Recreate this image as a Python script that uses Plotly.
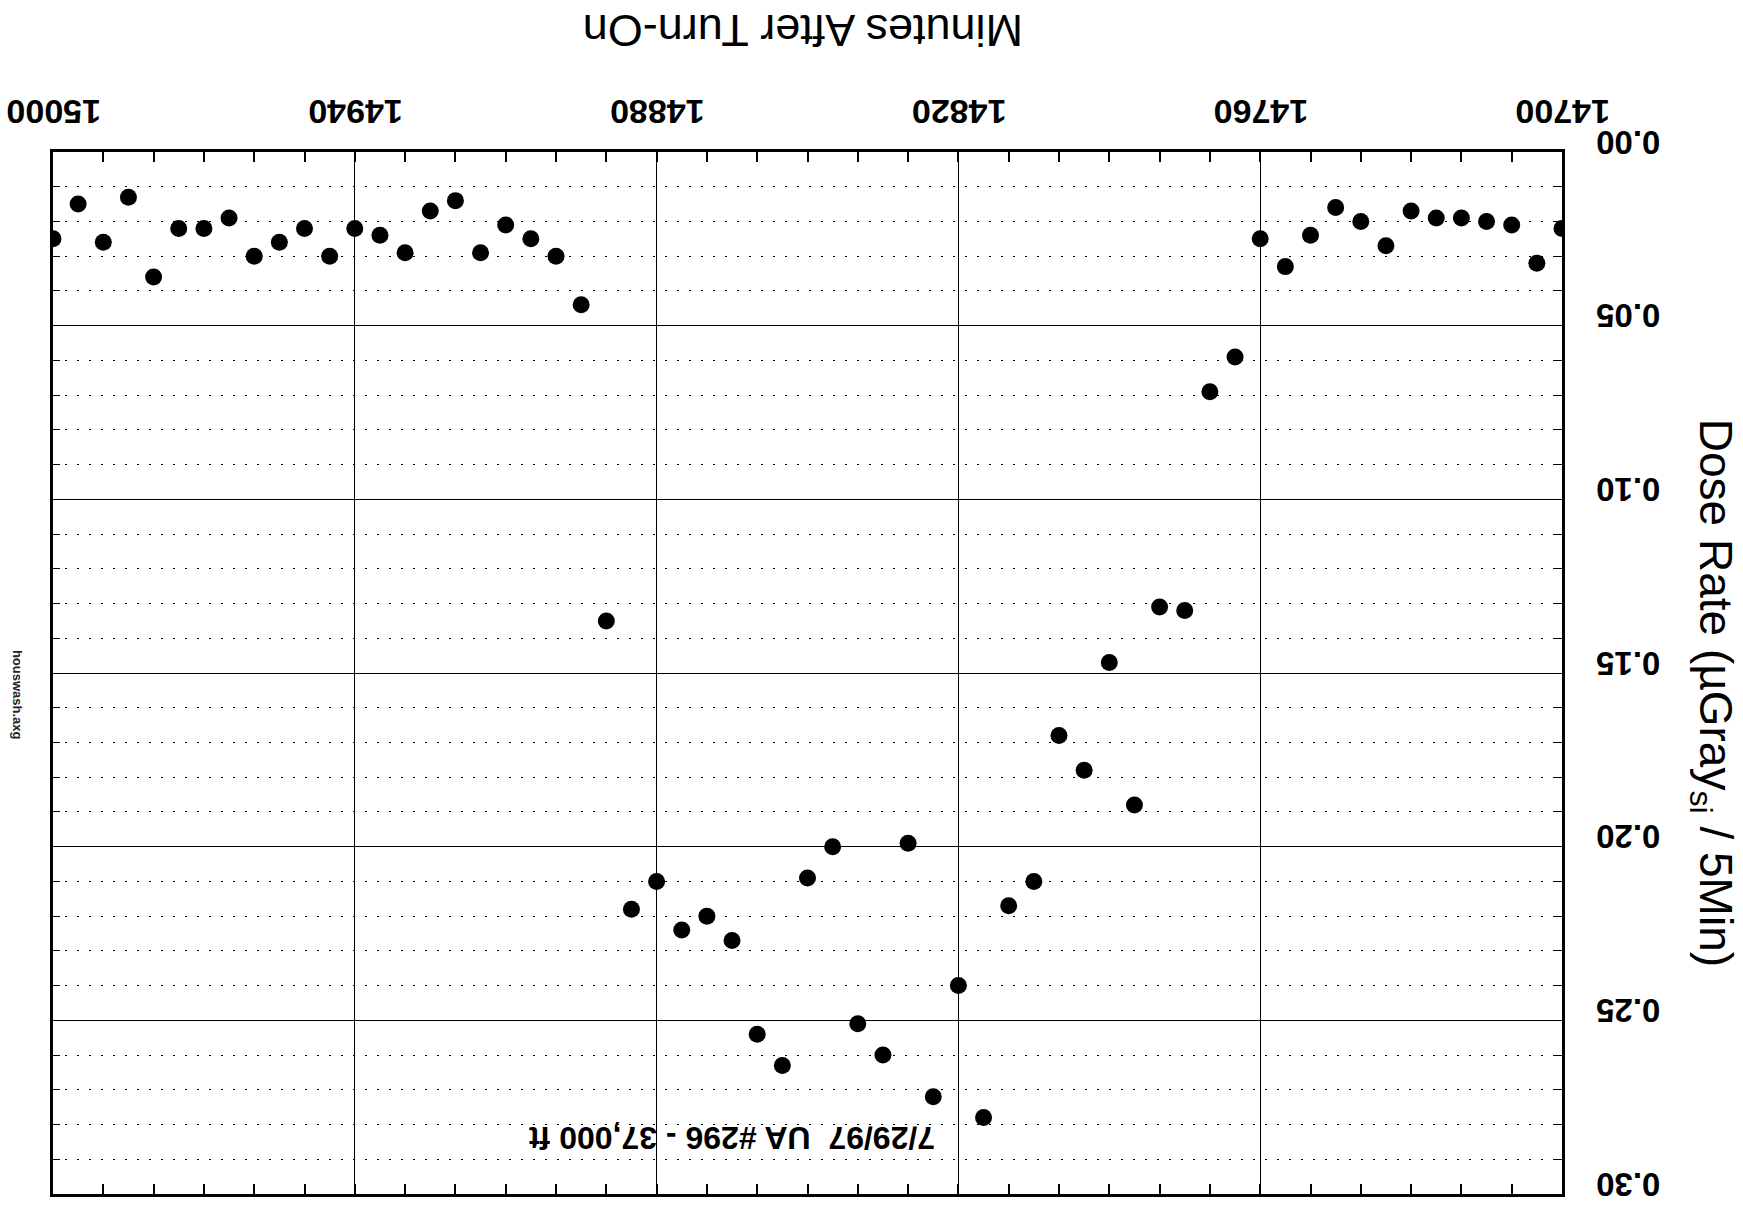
import plotly.graph_objects as go

minutes = [15000, 14995, 14990, 14985, 14980, 14975, 14970, 14965, 14960, 14955,
           14950, 14945, 14940, 14935, 14930, 14925, 14920, 14915, 14910, 14905,
           14900, 14895, 14890, 14885, 14880, 14875, 14870, 14865, 14860, 14855,
           14850, 14845, 14840, 14835, 14830, 14825, 14820, 14815, 14810, 14805,
           14800, 14795, 14790, 14785, 14780, 14775, 14770, 14765, 14760, 14755,
           14750, 14745, 14740, 14735, 14730, 14725, 14720, 14715, 14710, 14705,
           14700]
dose = [0.025, 0.015, 0.026, 0.013, 0.036, 0.022, 0.022, 0.019, 0.030, 0.026,
        0.022, 0.030, 0.022, 0.024, 0.029, 0.017, 0.014, 0.029, 0.021, 0.025,
        0.030, 0.044, 0.135, 0.218, 0.210, 0.224, 0.220, 0.227, 0.254, 0.263,
        0.209, 0.200, 0.251, 0.260, 0.199, 0.272, 0.240, 0.278, 0.217, 0.210,
        0.168, 0.178, 0.147, 0.188, 0.131, 0.132, 0.069, 0.059, 0.025, 0.033,
        0.024, 0.016, 0.020, 0.027, 0.017, 0.019, 0.019, 0.020, 0.021, 0.032,
        0.022]

x_ticks = [14700, 14760, 14820, 14880, 14940, 15000]
y_ticks = [0.00, 0.05, 0.10, 0.15, 0.20, 0.25, 0.30]

x_title = "Minutes After Turn-On"
y_title = "Dose Rate (µGray<sub>si</sub> / 5Min)"
note = "7/29/97  UA #296 - 37,000 ft"
file_tag = "houswash.axg"

FONT = "Liberation Sans, Arial, sans-serif"

fig = go.Figure()
fig.add_trace(go.Scatter(
    x=minutes, y=dose, mode="markers",
    marker=dict(color="black", size=17, line=dict(width=0)),
    showlegend=False,
))

fig.update_layout(
    width=1743, height=1221,
    margin=dict(l=53, r=181, t=152, b=27, autoexpand=False),
    paper_bgcolor="white", plot_bgcolor="white",
    font=dict(family=FONT, color="black"),
)

fig.update_xaxes(
    range=[15000, 14700], side="top", automargin=False,
    tickmode="array", tickvals=x_ticks, ticktext=[str(v) for v in x_ticks],
    tickangle=180,
    tickfont=dict(size=34, family=FONT, weight="bold"),
    ticklabelstandoff=2, ticklabelshift=-48, ticklabeloverflow="allow",
    showgrid=True, gridcolor="black", gridwidth=1,
    showline=True, linecolor="black", linewidth=2.5, mirror="allticks",
    ticks="inside", ticklen=10, tickcolor="black", tickwidth=1,
    zeroline=False,
    minor=dict(dtick=10, ticks="inside", ticklen=10, tickcolor="black",
               tickwidth=1.6, showgrid=False),
)

fig.update_yaxes(
    range=[0.30, 0.0], side="right", automargin=False,
    tickmode="array", tickvals=y_ticks, ticktext=[f"{v:.2f}" for v in y_ticks],
    tickangle=180,
    tickfont=dict(size=33, family=FONT, weight="bold"),
    ticklabelstandoff=89, ticklabeloverflow="allow",
    showgrid=True, gridcolor="black", gridwidth=1,
    showline=True, linecolor="black", linewidth=2.5, mirror="allticks",
    ticks="inside", ticklen=7, tickcolor="black", tickwidth=1,
    zeroline=False,
    minor=dict(dtick=0.01, ticks="inside", ticklen=7, tickcolor="black",
               tickwidth=1.4, showgrid=True, gridcolor="black",
               gridwidth=1.3, griddash="2px,10px"),
)

fig.add_annotation(text=x_title, xref="paper", yref="paper", x=0.497, y=1.0,
                   xanchor="center", yanchor="middle", yshift=121,
                   textangle=180, showarrow=False,
                   font=dict(size=45, family=FONT))
fig.add_annotation(text=y_title, xref="paper", yref="paper", x=1.0, y=0.481,
                   xanchor="center", yanchor="middle", xshift=150,
                   textangle=90, showarrow=False,
                   font=dict(size=46, family=FONT))
fig.add_annotation(text=note, xref="x", yref="y", x=14865, y=0.2837,
                   xanchor="center", yanchor="middle",
                   textangle=180, showarrow=False,
                   font=dict(size=32, family=FONT, weight="bold"))
fig.add_annotation(text=file_tag, xref="paper", yref="paper", x=0.0, y=0.479,
                   xanchor="center", yanchor="middle", xshift=-36,
                   textangle=90, showarrow=False,
                   font=dict(size=13, family=FONT, weight="bold", color="#222"))

fig.write_html("out.html")
